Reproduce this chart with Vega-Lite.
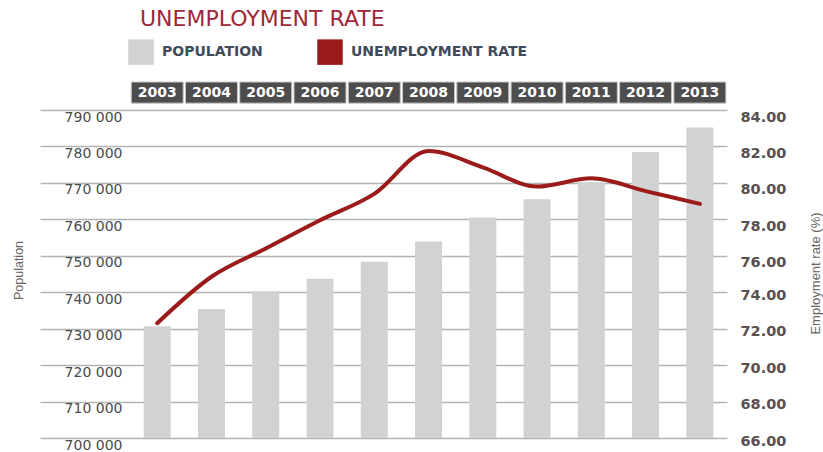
{
  "$schema": "https://vega.github.io/schema/vega-lite/v6.json",
  "width": 687,
  "height": 356,
  "autosize": {"type": "none"},
  "padding": {"left": 40, "top": 82, "right": 96, "bottom": 14},
  "background": "white",
  "config": {"view": {"stroke": null}},
  "title": {
    "text": "UNEMPLOYMENT RATE",
    "anchor": "start",
    "dx": 128,
    "dy": 22,
    "offset": 13,
    "baseline": "alphabetic",
    "font": "DejaVu Sans",
    "fontSize": 22,
    "fontWeight": "normal",
    "color": "#9e2838"
  },
  "data": {
    "values": [
      {"year": "2003", "population": 730700, "rate": 72.3},
      {"year": "2004", "population": 735400, "rate": 74.85},
      {"year": "2005", "population": 740300, "rate": 76.4},
      {"year": "2006", "population": 743700, "rate": 77.95},
      {"year": "2007", "population": 748400, "rate": 79.4},
      {"year": "2008", "population": 753900, "rate": 81.75},
      {"year": "2009", "population": 760500, "rate": 80.85},
      {"year": "2010", "population": 765500, "rate": 79.8},
      {"year": "2011", "population": 770200, "rate": 80.25},
      {"year": "2012", "population": 778500, "rate": 79.55},
      {"year": "2013", "population": 785200, "rate": 78.85}
    ]
  },
  "encoding": {
    "x": {
      "field": "year",
      "type": "nominal",
      "sort": null,
      "axis": null,
      "scale": {"type": "band", "paddingInner": 0, "paddingOuter": 0.83, "align": 1}
    }
  },
  "layer": [
    {
      "mark": {"type": "bar", "width": 27, "color": "#d1d2d4"},
      "encoding": {
        "y": {
          "field": "population",
          "type": "quantitative",
          "scale": {"domain": [700000, 797700], "nice": false, "zero": false},
          "axis": {
            "orient": "left",
            "title": "Population",
            "titleX": -22,
            "titleY": 188,
            "titleAngle": 270,
            "titleAlign": "center",
            "titleBaseline": "middle",
            "titleFont": "Liberation Sans",
            "titleFontSize": 12.5,
            "titleFontWeight": "normal",
            "titleColor": "#666666",
            "values": [700000, 710000, 720000, 730000, 740000, 750000, 760000, 770000, 780000, 790000],
            "labelExpr": "replace(format(datum.value, ',d'), ',', ' ')",
            "labelAlign": "right",
            "labelBaseline": "middle",
            "labelPadding": -82,
            "labelOffset": 7,
            "labelOverlap": false,
            "labelFont": "DejaVu Sans",
            "labelFontSize": 14,
            "labelColor": "#4a4a4a",
            "ticks": false,
            "domain": false,
            "grid": true,
            "gridColor": "#b3b3b3",
            "gridWidth": 1.5
          }
        },
        "y2": {"datum": 700000},
        "color": {
          "datum": "POPULATION",
          "type": "nominal",
          "scale": {"domain": ["POPULATION", "UNEMPLOYMENT RATE"], "range": ["#d1d2d4", "#9b1b1b"]},
          "legend": {
            "orient": "none",
            "direction": "horizontal",
            "legendX": 88,
            "legendY": -43,
            "title": null,
            "symbolType": "square",
            "symbolSize": 650,
            "symbolStrokeWidth": 0,
            "symbolOpacity": 1,
            "labelFont": "DejaVu Sans",
            "labelFontSize": 14,
            "labelFontWeight": "bold",
            "labelColor": "#3f4b5a",
            "labelOffset": 8,
            "labelLimit": 400,
            "columnPadding": 54
          }
        }
      }
    },
    {
      "mark": {"type": "bar", "width": 52, "color": "#4d4d4d", "stroke": "#c8c8c8", "strokeWidth": 1},
      "encoding": {
        "y": {"datum": 791900, "type": "quantitative", "scale": {"domain": [700000, 797700], "nice": false, "zero": false}, "axis": null},
        "y2": {"datum": 797700}
      }
    },
    {
      "mark": {"type": "text", "color": "white", "font": "DejaVu Sans", "fontSize": 14, "fontWeight": "bold", "baseline": "middle"},
      "encoding": {
        "y": {"datum": 794800, "type": "quantitative", "scale": {"domain": [700000, 797700], "nice": false, "zero": false}, "axis": null},
        "text": {"field": "year"}
      }
    },
    {
      "mark": {"type": "line", "interpolate": "monotone", "strokeWidth": 4, "strokeCap": "round", "color": "#9b1b1b"},
      "encoding": {
        "y": {
          "field": "rate",
          "type": "quantitative",
          "scale": {"domain": [66, 85.537], "nice": false, "zero": false},
          "axis": {
            "orient": "right",
            "title": "Employment rate (%)",
            "titleX": 88,
            "titleY": 191,
            "titleAngle": 270,
            "titleAlign": "center",
            "titleBaseline": "middle",
            "titleFont": "Liberation Sans",
            "titleFontSize": 13,
            "titleFontWeight": "normal",
            "titleColor": "#666666",
            "values": [66, 68, 70, 72, 74, 76, 78, 80, 82, 84],
            "format": ".2f",
            "labelOverlap": false,
            "labelFont": "DejaVu Sans",
            "labelFontSize": 14.5,
            "labelFontWeight": "bold",
            "labelColor": "#5a5050",
            "labelPadding": 13,
            "labelBaseline": "middle",
            "labelOffset": {"condition": {"test": "datum.value >= 76", "value": 7}, "value": 3},
            "ticks": false,
            "domain": false,
            "grid": false
          }
        },
        "color": {"datum": "UNEMPLOYMENT RATE", "type": "nominal"}
      }
    }
  ],
  "resolve": {"scale": {"y": "independent"}}
}
